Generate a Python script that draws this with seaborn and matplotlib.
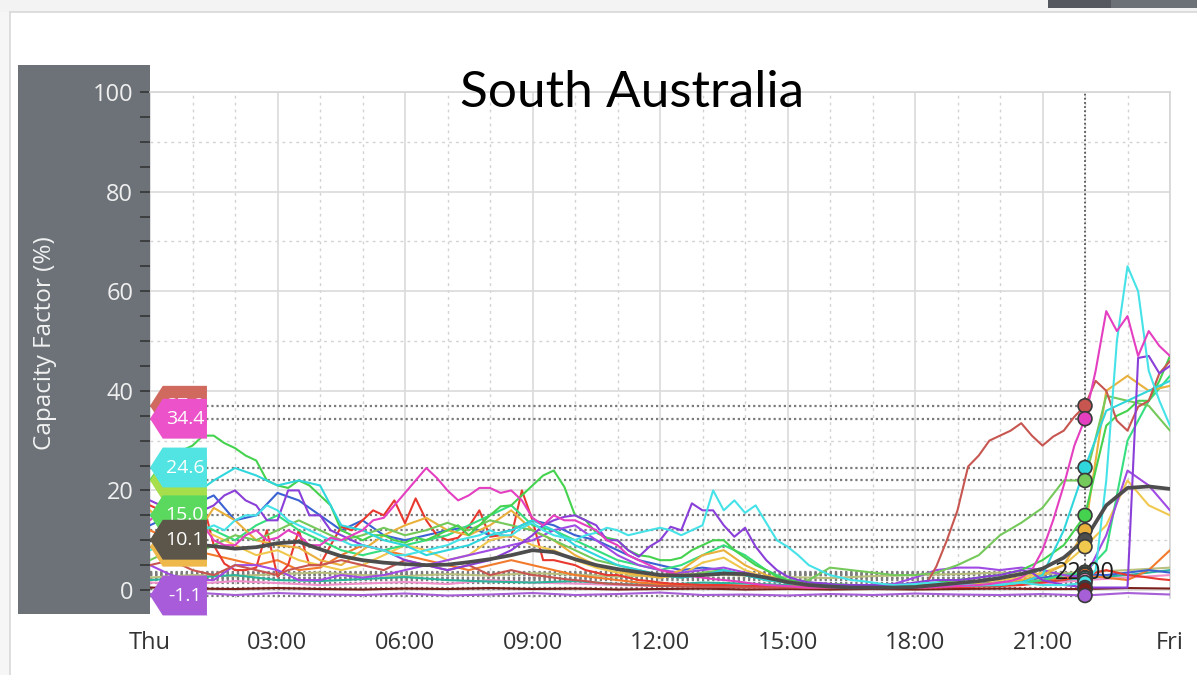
import numpy as np
import pandas as pd
import matplotlib
matplotlib.use("Agg")
import matplotlib.pyplot as plt
from matplotlib.patches import Polygon, Rectangle
from matplotlib.lines import Line2D
from matplotlib.ticker import MultipleLocator
import seaborn as sns

# ---------------- data (capacity factor %, Thu 00:00 -> Fri 00:00) ----------------
# 15-minute steps (4 values per hour + final value at 24:00)
magenta = [14, 16, 15, 12, 11, 13, 10, 9, 9, 11, 12, 10, 10.5, 12, 11, 9, 9, 10.5, 10, 11,
           12, 14, 14.5, 17, 19.5, 22, 24.5, 22.5, 20, 18, 19, 20.5, 20.5, 19.5, 20, 18,
           14.5, 13, 15, 14, 14, 13, 12, 10, 9, 7, 6, 5, 4, 3.5, 3, 2.8, 2.5, 2.2, 2, 1.8,
           1.5, 1.2, 1, 0.9, 0.8, 0.6, 0.5, 0.5, 0.5, 0.4, 0.4, 0.4, 0.4, 0.4, 0.4, 0.5,
           0.5, 0.5, 0.6, 0.7, 0.8, 0.9, 1, 1.2, 1.5, 1.8, 2.5, 4, 8, 14, 21, 29,
           34.4, 44, 56, 52, 55, 47, 52, 49, 47]
cyan = [8, 9, 9, 10, 11, 12, 13, 12, 14, 15, 15, 17, 16, 14, 13, 12, 11, 10, 10, 9,
        9, 8.5, 8, 7, 7, 7.5, 8, 8.5, 9, 10, 10.5, 11, 12, 11, 11, 12.5, 13.5, 12, 11, 10.5,
        10, 11, 11.5, 12.5, 12, 11, 11.5, 12, 12.5, 12, 11, 12, 13, 20, 16, 18,
        15.5, 17, 13.5, 10, 8.7, 7, 5, 4, 3, 2.5, 2, 1.8, 1.5, 1.2, 1, 1.1,
        1.2, 1.4, 1.5, 1.3, 1.2, 1.1, 1, 1.1, 1.2, 1.3, 1.5, 1.2, 1, 1, 1, 1.2,
        1.5, 4, 22, 50, 65, 60, 44, 38, 33]
green = [22, 25, 27, 28, 29, 31, 31, 29.5, 28.5, 27, 26, 22, 21, 20.5, 22, 21, 19, 17, 12, 11,
         10, 11, 11, 10, 9.5, 10.5, 10, 11, 12, 13, 11, 13, 15, 16.8, 17, 19, 21, 23, 24, 20.7,
         15, 14, 11.5, 10.5, 10, 8, 7, 6.7, 6, 6, 6.5, 8, 9, 10, 10, 8, 6.5, 5, 4, 2.7,
         2, 1.8, 1.5, 1.3, 1.2, 1.1, 1, 1, 1, 1, 1, 1, 1, 1.2, 1.5, 1.8, 2, 2.2, 2.5, 2.8,
         3, 3.5, 4, 5, 6, 7.5, 9, 12, 15, 24, 33, 35, 36, 38, 38, 42, 47]
red = [17, 16, 15, 17, 16, 17.4, 9, 5.3, 4, 4, 4.5, 12, 2.7, 5, 12, 5, 5, 9, 12.7, 12,
       14, 16, 15, 18, 13.4, 18.4, 14, 11, 10, 10.5, 12.7, 16, 10.7, 11, 10.7, 20,
       14, 6, 6, 5.5, 5, 4, 3.5, 3, 3, 2.5, 2, 1.8, 1.5, 1.3, 1.2, 1.1, 1, 1, 1, 0.9,
       0.8, 0.8, 0.8, 0.7, 0.6, 0.6, 0.5, 0.5, 0.5, 0.5, 0.5, 0.5, 0.5, 0.5, 0.5, 0.5,
       0.5, 0.5, 0.5, 0.6, 0.6, 0.6, 0.7, 0.7, 0.8, 0.9, 1, 1.2, 1.5, 1.8, 2, 2.5,
       3, 3.5, 4, 3.5, 3, 2.8, 2.5, 2.2, 2]
purple = [18, 17, 16, 15, 15, 16, 17, 19, 20, 18, 17, 14, 14, 20, 20, 15, 15, 12, 11, 10,
          9, 8.5, 8, 7, 6, 5.5, 5, 4.5, 4, 4.5, 5, 5.5, 6, 7, 8, 9.5, 11, 13, 14, 14.7,
          15, 14, 13, 10, 10, 8, 6.7, 8.7, 10, 12.7, 12, 17.4, 16, 16, 13, 10.7,
          12.5, 8.7, 6, 4, 2.7, 2, 1.5, 1.4, 1.2, 1, 1, 1, 1, 1, 1, 1.2, 1.5, 1.8, 2, 2,
          2, 2.2, 2.5, 2.8, 3, 3.5, 4, 3.5, 2, 1.5, 1, 0.8, 0.5, 0.5, 0.5, 0.5,
          0.5, 46.6, 47, 43.5, 45]
red_brown = [5, 5.5, 6, 5, 4, 3.5, 3, 4, 5, 4.5, 4, 3.5, 3, 4, 4.5, 5, 5, 5.5, 6, 5.5,
             5, 4.5, 4, 5, 6, 5.5, 5, 4.5, 4, 4.5, 5, 4, 3, 3.5, 4, 3.5, 3, 2.8, 2.5, 2.2,
             2, 1.8, 1.5, 1.3, 1.2, 1.1, 1, 0.9, 0.8, 0.8, 0.7, 0.7, 0.6, 0.6, 0.6, 0.6,
             0.5, 0.5, 0.5, 0.5, 0.5, 0.5, 0.4, 0.4, 0.4, 0.4, 0.4, 0.4, 0.4, 0.4, 0.4, 0.4,
             0.5, 1, 4.7, 10, 16, 24.8, 27, 30, 31, 32, 33.5, 31, 29, 30.8, 32, 34.8,
             37, 42, 40, 34, 32, 36.8, 38, 43.5, 46]
# 30-minute steps
mean_line = [10.0, 9.6, 9.2, 8.8, 8.3, 8.6, 9.4, 9.7, 8.2, 6.8, 6.0, 5.5, 5.2, 5.0, 5.1, 5.6, 6.2, 7.0,
             8.0, 7.6, 6.2, 5.0, 4.2, 3.6, 3.0, 2.9, 3.0, 3.3, 3.2, 2.5, 1.6, 1.0, 0.7, 0.5, 0.5, 0.5,
             0.6, 1.0, 1.4, 1.8, 2.4, 3.2, 4.3, 6.5, 10.1, 17.0, 20.5, 20.8, 20.3]
cyan2 = [15, 17, 19, 22, 24.5, 23, 21, 22, 21, 13, 12, 10, 9, 7, 8, 9, 11, 12, 14, 12, 9, 7, 5, 4, 3,
         2.5, 3, 4, 3, 2, 1.5, 1, 0.8, 0.7, 0.6, 0.6, 0.7, 0.8, 0.8, 0.9, 1, 1.5, 3, 12, 24.6, 36,
         38, 40, 42]
riser = [6, 8, 7, 9, 11, 10, 12, 14, 12, 10, 11, 12.5, 11, 12, 13.5, 12, 14, 13, 12, 10, 8, 6, 5, 4,
         3, 2.5, 3.5, 4, 3, 2, 1.5, 2, 4.5, 4, 3.5, 3, 3, 3.5, 5, 7, 11, 13.5, 16.5, 22, 22, 39, 38,
         37, 32]
blue = [13, 15, 17, 19, 14, 15, 19.5, 18, 15, 12, 14, 11, 10, 11, 12, 12.7, 11, 12, 14, 13, 11, 10,
        8, 6, 5, 4, 4.5, 4, 3, 2, 1.5, 1, 1, 0.9, 0.9, 1, 1, 1.2, 1.2, 1.3, 1.5, 2, 2.5, 3, 3.2, 3,
        3.5, 4, 3.5]
purple2 = [5, 3, 2, 2, 5, 5, 4, 2, 2, 3, 2.5, 3, 4, 5, 6, 7, 8, 9, 10, 12, 13, 10, 7, 5, 4, 3.5, 4,
           4.5, 3.5, 2.5, 2, 1.5, 1.2, 1, 1, 1.2, 2.5, 4, 4.5, 4.5, 4, 4.5, 4, 3, 2.5, 11, 24, 21, 16]
orange_yellow = [16, 12, 10, 16.5, 14, 10, 9, 8.5, 6, 5, 8, 11, 13, 14.5, 12, 11, 13, 16, 12, 10, 7,
                 5, 4, 3, 2.5, 4, 7, 8, 5, 3, 1.5, 1, 0.8, 0.8, 0.8, 0.8, 0.9, 1, 1.1, 1.2, 1.5, 2,
                 3, 5, 12, 40, 43, 40, 41]
yellow = [8, 10, 13, 11, 9, 7, 8, 6, 5, 4, 5, 7, 9, 8, 6, 7, 10, 11, 9, 8, 6, 4.5, 3.5, 3, 2.5, 3,
          5.5, 6.5, 4, 2.5, 1.5, 1, 1, 1, 1, 1, 1.2, 1.3, 1.5, 1.7, 2, 2.5, 3.5, 5, 8.7, 13, 22, 17, 15]
orange = [12, 10, 8, 7, 6, 5, 6, 4, 4.5, 7, 9, 8, 7, 6, 5, 4, 5, 6, 5, 4, 3, 2.5, 2, 1.5, 1.2, 1, 1,
          0.9, 0.8, 0.8, 0.7, 0.7, 0.7, 0.7, 0.8, 0.8, 0.8, 0.9, 0.9, 1, 1, 1.5, 2, 2.5, 3, 2.5, 2,
          4, 8]
spring = [10, 12, 14, 12, 10, 13, 15, 12, 10, 8, 7, 8, 9, 10, 11, 13, 15, 17, 13, 12, 10, 8, 6, 5, 4,
          5, 7, 9, 7, 4, 2, 1.5, 1, 1, 1, 1, 1, 1, 1, 1, 1, 1.5, 2, 3, 3.5, 8, 30, 38, 43]
# hourly steps (near-zero units)
dark_red = [0.5, 0.3, 0.2, 0.4, 0.2, 0.1, 0.3, 0.2, 0.4, 0.2, 0.3, 0.1, 0.2, 0.3, 0.1, 0.2, 0.1, 0.2,
            0.1, 0.2, 0.3, 0.2, 0.2, 0.4, 0.3]
lilac = [-0.8, -0.5, -1.0, -0.6, -0.9, -1.0, -0.7, -1.1, -0.9, -0.6, -1.0, -0.8, -0.5, -1.0, -0.9,
         -1.1, -0.8, -1.0, -0.7, -0.9, -1.0, -0.8, -1.1, -0.6, -0.9]
olive = [2.5, 3.0, 2.8, 3.2, 3.5, 3.0, 2.8, 3.2, 2.9, 3.4, 3.1, 2.7, 3.0, 3.3, 2.9, 2.6, 2.4, 2.8,
         3.0, 3.2, 3.5, 3.2, 3.6, 4.0, 4.5]
pink = [1.5, 1.2, 1.8, 1.4, 1.0, 1.3, 1.6, 1.2, 2.0, 1.5, 1.3, 1.0, 0.8, 1.2, 0.9, 0.7, 0.6, 0.8,
        0.7, 0.9, 1.0, 1.3, 2.0, 2.5, 3.0]
teal = [2.0, 2.5, 3.0, 2.0, 1.8, 2.2, 2.6, 2.0, 1.7, 1.5, 1.8, 1.2, 1.0, 1.5, 1.3, 1.0, 0.8, 1.0,
        1.2, 1.0, 1.5, 1.7, 2.4, 3.0, 4.0]

x_tick_hours = [0, 3, 6, 9, 12, 15, 18, 21, 24]
x_tick_labels = ["Thu", "03:00", "06:00", "09:00", "12:00", "15:00", "18:00", "21:00", "Fri"]
cursor_hour = 22
cursor_label = "22:00"
title_text = "South Australia"
y_label = "Capacity Factor (%)"

# ---------------- assemble ----------------
series = {
    "dark_red": dark_red, "lilac": lilac, "olive": olive, "pink": pink, "teal": teal,
    "orange": orange, "blue": blue, "red": red, "yellow": yellow, "spring": spring,
    "purple2": purple2, "orange_yellow": orange_yellow, "riser": riser, "green": green,
    "cyan2": cyan2, "red_brown": red_brown, "purple": purple, "cyan": cyan, "magenta": magenta,
}
colors = {
    "dark_red": "#7a1f1a", "lilac": "#a65fd6", "olive": "#b9c07e", "pink": "#f08fc9",
    "teal": "#2bb59c", "orange": "#f27a2c", "blue": "#3b62d3", "red": "#e8392f",
    "yellow": "#f0c84e", "spring": "#36de80", "purple2": "#a04be3", "orange_yellow": "#e9b03c",
    "riser": "#74c95a", "green": "#45d24e", "cyan2": "#2fd6dc", "red_brown": "#c85650",
    "purple": "#8a3fd8", "cyan": "#45e2e8", "magenta": "#e43fc0", "mean": "#4d4d4d",
}
frames = []
for name, vals in series.items():
    frames.append(pd.DataFrame({"hour": np.linspace(0, 24, len(vals)), "value": vals, "series": name}))
df = pd.concat(frames, ignore_index=True)
df_mean = pd.DataFrame({"hour": np.linspace(0, 24, len(mean_line)), "value": mean_line, "series": "mean"})
df_all = pd.concat([df, df_mean], ignore_index=True)
df_cursor = df_all[np.isclose(df_all["hour"], cursor_hour)].copy()
df_cursor = df_cursor.sort_values("value", ascending=False)
cursor_vals = dict(zip(df_cursor["series"], df_cursor["value"]))

flag_order = ["red_brown", "magenta", "riser", "cyan2", "green", "yellow", "mean", "lilac"]
flag_colors = {"red_brown": "#d06a5f", "magenta": "#ec52c9", "riser": "#a6de4c", "cyan2": "#52e3e3",
               "green": "#5bd95f", "yellow": "#eeb84a", "mean": "#5b5649", "lilac": "#a85cd9"}

# ---------------- figure ----------------
sns.set_theme(style="white")
plt.rcParams["font.family"] = ["Open Sans", "DejaVu Sans"]

W, H = 1197, 675
fig = plt.figure(figsize=(W / 100, H / 100), dpi=100, facecolor="white")
fx = lambda px: px / W
fy = lambda py: 1 - py / H

# page frame / header remnants
fig.patches.append(Rectangle((0, fy(12)), 1, 12 / H, transform=fig.transFigure,
                             facecolor="#f3f3f3", edgecolor="none", zorder=0))
fig.patches.append(Rectangle((0, 0), fx(10), fy(12), transform=fig.transFigure,
                             facecolor="#f6f6f6", edgecolor="none", zorder=0))
fig.add_artist(Line2D([fx(10), fx(10)], [0, fy(12)], color="#d8d8d8", lw=1.2, zorder=0.5))
fig.add_artist(Line2D([fx(10), 1], [fy(12), fy(12)], color="#d8d8d8", lw=1.2, zorder=0.5))
fig.patches.append(Rectangle((fx(1048), fy(8)), fx(1111) - fx(1048), 8 / H, transform=fig.transFigure,
                             facecolor="#55595f", edgecolor="none", zorder=1))
fig.patches.append(Rectangle((fx(1111), fy(8)), 1 - fx(1111), 8 / H, transform=fig.transFigure,
                             facecolor="#6b7177", edgecolor="none", zorder=1))
# grey y-axis panel
fig.patches.append(Rectangle((fx(18), fy(614)), fx(150) - fx(18), (614 - 65) / H,
                             transform=fig.transFigure, facecolor="#6c7278", edgecolor="none", zorder=1))

ax = fig.add_axes([fx(150), fy(597.5), fx(1170) - fx(150), (597.5 - 92) / H])
ax.set_zorder(2)
ax.set_facecolor("white")
ax.set_xlim(0, 24)
ax.set_ylim(-1.5, 100)

# grid
ax.xaxis.set_major_locator(MultipleLocator(3))
ax.xaxis.set_minor_locator(MultipleLocator(1))
ax.yaxis.set_major_locator(MultipleLocator(20))
ax.yaxis.set_minor_locator(MultipleLocator(5))
ax.grid(which="major", axis="both", color="#dadada", lw=1.2, zorder=0)
ax.grid(which="minor", axis="x", color="#d2d2d2", lw=1.0, linestyle=(0, (2, 3)), zorder=0)
for yv in range(10, 100, 20):
    ax.axhline(yv, color="#d2d2d2", lw=1.0, linestyle=(0, (2, 3)), zorder=0)
ax.set_axisbelow(True)

# cursor guides
ax.hlines(list(cursor_vals.values()), 0, cursor_hour, colors="#7b7b7b",
          linestyles=(0, (1, 1.3)), linewidth=1.6, zorder=2)
ax.axvline(cursor_hour, color="#555555", linestyle=(0, (1, 1.3)), lw=1.3, zorder=2)

# data lines
sns.lineplot(data=df, x="hour", y="value", hue="series", palette=colors, legend=False,
             estimator=None, sort=False, linewidth=1.5, ax=ax, zorder=3)
sns.lineplot(data=df_mean, x="hour", y="value", color=colors["mean"], legend=False,
             estimator=None, sort=False, linewidth=2.7, ax=ax, zorder=4)

ax.text(cursor_hour, 3.4, cursor_label, ha="center", va="center", fontsize=17, color="#1e1e1e", zorder=5)
sns.scatterplot(data=df_cursor, x="hour", y="value", hue="series", palette=colors, s=100,
                edgecolor="#3a3a3a", linewidth=1.2, legend=False, ax=ax, zorder=6, clip_on=False)

# value flags on left edge
half = 4.0
for k, name in enumerate(flag_order):
    v = cursor_vals[name]
    pts = [(0.0, v), (0.3, v + half), (1.34, v + half), (1.34, v - half), (0.3, v - half)]
    ax.add_patch(Polygon(pts, closed=True, facecolor=flag_colors[name], edgecolor="none",
                         zorder=10 + k, clip_on=False))
    ax.text(0.82, v, f"{v:.1f}", color="white", fontsize=14, ha="center", va="center",
            zorder=10 + k + 0.5, clip_on=False)

# axes styling
ax.set_xlabel("")
ax.set_ylabel("")
ax.set_xticks(x_tick_hours)
ax.set_xticklabels(x_tick_labels)
ax.tick_params(axis="x", which="both", length=0, labelsize=17, labelcolor="#333333", pad=24)
ax.tick_params(axis="y", which="both", direction="out", length=7, width=1.3, color="#3a3a3a",
               labelcolor="#efefef", labelsize=17, pad=5, left=True)
for s in ["left", "bottom"]:
    ax.spines[s].set_visible(False)
for s in ["top", "right"]:
    ax.spines[s].set_color("#d6d6d6")

fig.text(fx(45), fy(343), y_label, rotation=90, color="#f2f2f2", fontsize=17.5,
         ha="center", va="center", zorder=5)
fig.text(fx(632), fy(93), title_text, ha="center", va="center", fontsize=37, color="black",
         family=["Lato", "DejaVu Sans"], zorder=5)

fig.savefig("out.png", dpi=100, facecolor="white")
